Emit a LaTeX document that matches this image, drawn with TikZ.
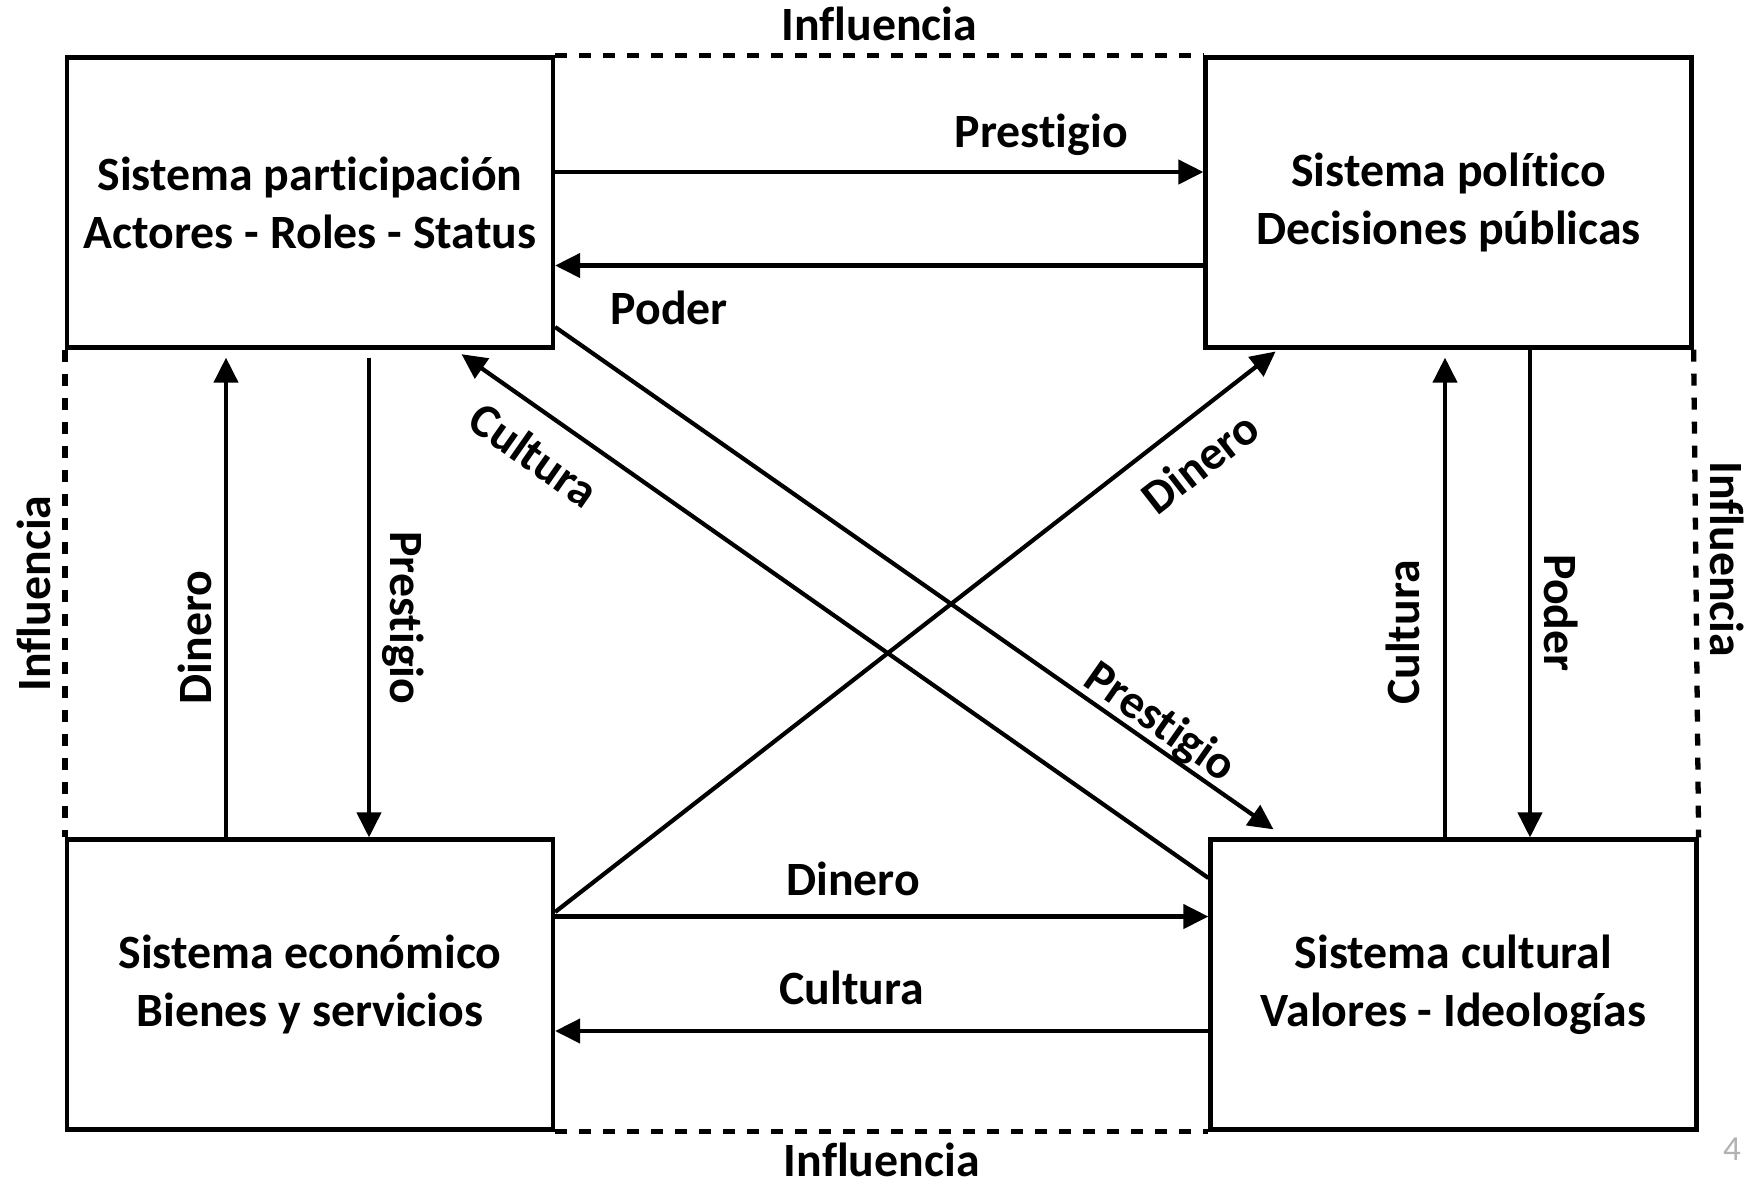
\documentclass[tikz,border=0pt]{standalone}
\usepackage{fontspec}
\setmainfont{Carlito}[Ligatures=CommonOff]
\usetikzlibrary{arrows.meta,calc}
\tikzstyle{sistema}=[rectangle,
                     draw,
                     very thick,
                     minimum width=4.86cm,
                     minimum height=2.9cm,
                     align=center]
\tikzstyle{flujo}=[very thick,
                   -{Triangle[length=0.25cm,width=0.24cm]}]
\tikzstyle{influencia}=[line width=1.5pt,
                        dash pattern=on 0.12cm off 0.12cm]

\begin{document}
\begin{tikzpicture}[every node/.style={font=\bfseries\fontsize{13.6pt}{16.5pt}\selectfont}]
    \useasboundingbox (0,0) rectangle (17.63,-11.82);
    \node[sistema] (part) at (3.10,-2.025) {Sistema participación\\Actores - Roles - Status};
    \node[sistema, node distance=11.385cm, right of=part] (pol) {Sistema político\\Decisiones públicas};
    \node[sistema, node distance=7.82cm, below of=part] (eco) {Sistema económico\\Bienes y servicios};
    \node[sistema, node distance=11.435cm, right of=eco] (cul) {Sistema cultural\\Valores - Ideologías};

    % influencia (dashed frame)
    \path[influencia] (part.north east) edge node[above] (infarriba) {Influencia} (pol.north west)
    (eco.south east) edge node[below=-0.03cm] (infabajo) {Influencia} (cul.south west)
    (part.south west) edge node[rotate=90, anchor=south] (infizq) {Influencia} (eco.north west)
    (pol.south east) edge node[pos=0.43, rotate=-90, anchor=south] (infder) {Influencia} (cul.north east);

    % horizontal flows
    \path[flujo] ([yshift=0.305cm]part.east) edge node[pos=0.75, above=0.03cm] (lpres1) {Prestigio} ([yshift=0.305cm]pol.west)
    ([yshift=-0.63cm]pol.west) edge node[pos=0.824, below=0.12cm] (lpod1) {Poder} ([yshift=-0.63cm]part.east)
    ([yshift=0.68cm]eco.east) edge node[pos=0.456, above=0.07cm] (ldin1) {Dinero} ([yshift=0.68cm]cul.west)
    ([yshift=-0.465cm]cul.west) edge node[pos=0.546, above=0.12cm] (lcul1) {Cultura} ([yshift=-0.465cm]eco.east);

    % vertical flows
    \path[flujo] ([xshift=-0.84cm]eco.north) edge[shorten >=0.08cm] node[pos=0.41, rotate=90, anchor=south] (ldin2) {Dinero} ([xshift=-0.84cm]part.south)
    ([xshift=0.59cm]part.south) edge[shorten <=0.08cm] node[pos=0.55, rotate=-90, anchor=south] (lpres2) {Prestigio} ([xshift=0.59cm]eco.north)
    ([xshift=0.815cm]pol.south) edge node[pos=0.54, rotate=-90, anchor=south] (lpod2) {Poder} ([xshift=0.815cm]pol.south |- cul.north)
    ([xshift=-0.085cm]cul.north) edge[shorten >=0.08cm] node[pos=0.42, rotate=90, anchor=south, yshift=0.11cm] (lcul2) {Cultura} ([xshift=-0.085cm]cul.north |- pol.south);

    % diagonal flows
    \path[flujo] ([yshift=0.725cm]eco.east) edge[shorten >=0.03cm] node[pos=0.857, sloped, below=0.1cm] (ldin3) {Dinero} ([xshift=-1.705cm]pol.south)
    ([yshift=1.065cm]cul.west) edge[shorten >=0.08cm] node[pos=0.864, sloped, below=0.1cm] (lcul3) {Cultura} ([xshift=1.45cm]part.south)
    ([yshift=-1.245cm]part.east) edge[shorten >=0.14cm] node[pos=0.811, sloped, above=-0.13cm] (lpres3) {Prestigio} ([xshift=-1.685cm]cul.north);

    \node[font=\fontsize{10pt}{12pt}\selectfont, text=gray!60] (pagina) at (17.32,-11.49) {4};
\end{tikzpicture}
\end{document}
